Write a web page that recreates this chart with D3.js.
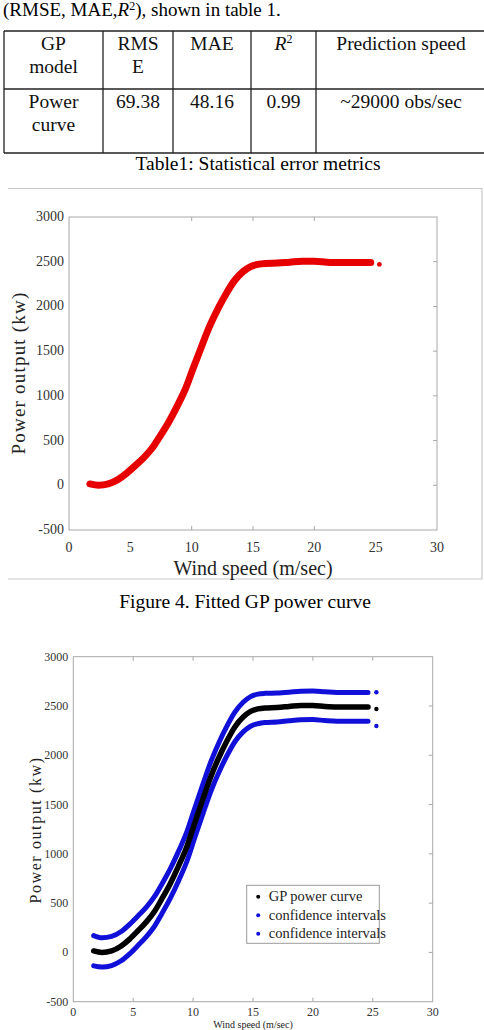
<!DOCTYPE html>
<html lang="en">
<head>
<meta charset="UTF-8">
<title>GP power curve</title>
<script src="https://d3js.org/d3.v7.min.js"></script>
<style>
  body { margin: 0; background: #fff; }
  svg { display: block; font-family: "Liberation Serif", "Times New Roman", serif; }
  .tick-label { fill: #333; }
</style>
</head>
<body>
<svg id="page" width="484" height="1030"></svg>
<script>
// table contents
const tableHeader = [["GP", "model"], ["RMS", "E"], ["MAE"], ["R²"], ["Prediction speed"]];
const tableRow = [["Power", "curve"], ["69.38"], ["48.16"], ["0.99"], ["~29000 obs/sec"]];

// fitted GP curve (wind speed m/s -> kW)
const windSpeed = [1.7, 2.4, 3.2, 4.0, 4.7, 5.4, 6.1, 6.8, 7.4, 8.1, 8.8, 9.5, 10.1, 10.8, 11.5,
  12.2, 12.8, 13.5, 14.2, 14.8, 15.4, 16, 17, 18, 19, 20, 21, 22, 23, 24, 24.6];
const gpPower = [15, 0, 15, 65, 135, 220, 310, 420, 545, 700, 880, 1080, 1300, 1550, 1790,
  1990, 2140, 2290, 2390, 2445, 2470, 2480, 2485, 2495, 2505, 2505, 2495, 2490, 2490, 2490, 2490];
const upperCI = [170, 148, 162, 212, 285, 370, 460, 570, 695, 850, 1030, 1230, 1450, 1700, 1940,
  2140, 2290, 2440, 2540, 2595, 2620, 2628, 2632, 2640, 2650, 2652, 2645, 2638, 2636, 2636, 2636];
const lowerCI = [-136, -148, -133, -85, -15, 70, 160, 270, 395, 550, 730, 930, 1150, 1400, 1640,
  1840, 1990, 2140, 2240, 2295, 2320, 2332, 2338, 2350, 2360, 2362, 2352, 2345, 2345, 2345, 2345];
// lone point at the cut-out speed
const lastSpeed = 25.3;
const lastPower = 2470, lastUpper = 2640, lastLower = 2297;

const xTicks = [0, 5, 10, 15, 20, 25, 30];
const yTicks = [-500, 0, 500, 1000, 1500, 2000, 2500, 3000];
const legendLabels = ["GP power curve", "confidence intervals", "confidence intervals"];
const legendColors = ["#000", "#1010d8", "#1010d8"];

const svg = d3.select("#page");
const bodySize = 19.5;

// ---- text + table ----
const intro = svg.append("text").attr("x", 3).attr("y", 16).style("font-size", "19px");
intro.append("tspan").text("(RMSE, MAE,");
intro.append("tspan").style("font-style", "italic").text("R");
intro.append("tspan").attr("dy", -6).style("font-size", "12px").text("2");
intro.append("tspan").attr("dy", 6).text("), shown in table 1.");

const colEdges = [4, 103, 173, 251, 316, 490];
const rowEdges = [31, 89, 153];
const table = svg.append("g").attr("stroke", "#222").attr("stroke-width", 1.3);
rowEdges.forEach(y => table.append("line").attr("x1", 4).attr("x2", 490).attr("y1", y).attr("y2", y));
colEdges.slice(0, 5).forEach(x => table.append("line").attr("x1", x).attr("x2", x).attr("y1", 31).attr("y2", 153));

function cellText(lines, ci, top, italic) {
  const cx = (colEdges[ci] + colEdges[ci + 1]) / 2;
  lines.forEach((t, i) => {
    const tx = svg.append("text")
      .attr("x", ci === 4 ? 401 : cx)
      .attr("y", top + i * 22.5)
      .attr("text-anchor", "middle")
      .style("font-size", bodySize + "px")
      .style("fill", "#111");
    if (italic) {
      tx.append("tspan").style("font-style", "italic").text("R");
      tx.append("tspan").attr("dy", -7).style("font-size", "12px").text("2");
    } else {
      tx.text(t);
    }
  });
}
tableHeader.forEach((c, i) => cellText(c, i, 50, i === 3));
tableRow.forEach((c, i) => cellText(c, i, 108, false));

svg.append("text").attr("x", 258).attr("y", 170).attr("text-anchor", "middle")
  .style("font-size", bodySize + "px").text("Table1: Statistical error metrics");

// ---- figure 4 frame ----
svg.append("path").attr("d", "M8,188.5 H482 V579 H8").attr("fill", "none")
  .attr("stroke", "#c8c8c8").attr("stroke-width", 1.2);

function drawAxes(g, x, y, opts) {
  const [x0, x1] = x.range();
  const [y0, y1] = y.range();
  g.append("rect").attr("x", x0).attr("y", y1).attr("width", x1 - x0).attr("height", y0 - y1)
    .attr("fill", "none").attr("stroke", "#a8a8a8").attr("stroke-width", 1);
  const tk = g.append("g").attr("stroke", "#a8a8a8").attr("stroke-width", 1);
  opts.xTickMarks.forEach(v => {
    tk.append("line").attr("x1", x(v)).attr("x2", x(v)).attr("y1", y0).attr("y2", y0 - 4);
    tk.append("line").attr("x1", x(v)).attr("x2", x(v)).attr("y1", y1).attr("y2", y1 + 4);
  });
  yTicks.slice(1, -1).forEach(v => {
    tk.append("line").attr("x1", x1).attr("x2", x1 - 4).attr("y1", y(v)).attr("y2", y(v));
  });
  g.selectAll(".xl").data(xTicks).enter().append("text")
    .attr("class", "tick-label").style("font-size", opts.tickSize + "px")
    .attr("x", d => x(d)).attr("y", y0 + opts.xLabelGap)
    .attr("text-anchor", "middle").text(d => d);
  g.selectAll(".yl").data(yTicks).enter().append("text")
    .attr("class", "tick-label").style("font-size", opts.tickSize + "px")
    .attr("x", x0 - 5).attr("y", d => y(d) + 4)
    .attr("text-anchor", "end").text(d => d);
  g.append("text").attr("x", (x0 + x1) / 2 + opts.xTitleShift).attr("y", opts.xTitleY)
    .attr("text-anchor", "middle").style("font-size", opts.titleSize + "px")
    .style("fill", "#222").text("Wind speed (m/sec)");
  g.append("text")
    .attr("transform", `translate(${opts.yTitleX},${opts.yTitleY}) rotate(-90)`)
    .attr("text-anchor", "middle").style("font-size", opts.yTitleSize + "px")
    .style("letter-spacing", opts.spacing + "px").style("fill", "#222")
    .text("Power output (kw)");
}

// ---- figure 4: fitted curve ----
const x1s = d3.scaleLinear().domain([0, 30]).range([69, 437]);
const y1s = d3.scaleLinear().domain([-500, 3000]).range([530, 217]);
const fig1 = svg.append("g");
drawAxes(fig1, x1s, y1s, {
  xTickMarks: [10, 15, 20], xLabelGap: 22, xTitleY: 575, xTitleShift: 0, tickSize: 14,
  titleSize: 20, yTitleSize: 19, yTitleX: 25, yTitleY: 373, spacing: 1.2
});
const line1 = d3.line().x((d, i) => x1s(windSpeed[i])).y(d => y1s(d)).curve(d3.curveMonotoneX);
fig1.append("path").datum(gpPower).attr("d", line1).attr("fill", "none")
  .attr("stroke", "#e60000").attr("stroke-width", 7).attr("stroke-linecap", "round");
fig1.append("circle").attr("cx", x1s(lastSpeed)).attr("cy", y1s(lastPower)).attr("r", 2.4).attr("fill", "#e60000");

svg.append("text").attr("x", 245).attr("y", 608).attr("text-anchor", "middle")
  .style("font-size", bodySize + "px").text("Figure 4. Fitted GP power curve");

// ---- figure 5: curve with confidence intervals ----
const x2s = d3.scaleLinear().domain([0, 30]).range([73.3, 432.7]);
const y2s = d3.scaleLinear().domain([-500, 3000]).range([1001.7, 656.7]);
const fig2 = svg.append("g");
drawAxes(fig2, x2s, y2s, {
  xTickMarks: [5, 10, 15, 20, 25], xLabelGap: 14.2, xTitleY: 1027.6, xTitleShift: 0, tickSize: 12,
  titleSize: 10, yTitleSize: 16, yTitleX: 41, yTitleY: 830, spacing: 1.6
});
const line2 = d3.line().x((d, i) => x2s(windSpeed[i])).y(d => y2s(d)).curve(d3.curveMonotoneX);
[[upperCI, legendColors[1], 5], [lowerCI, legendColors[2], 5], [gpPower, legendColors[0], 5.5]].forEach(([s, c, w]) => {
  fig2.append("path").datum(s).attr("d", line2).attr("fill", "none")
    .attr("stroke", c).attr("stroke-width", w).attr("stroke-linecap", "round");
});
[[lastUpper, legendColors[1]], [lastPower, legendColors[0]], [lastLower, legendColors[2]]].forEach(([v, c]) => {
  fig2.append("circle").attr("cx", x2s(lastSpeed)).attr("cy", y2s(v)).attr("r", 2.2).attr("fill", c);
});

// legend
const lg = fig2.append("g").attr("transform", "translate(246.7,885.3)");
lg.append("rect").attr("width", 132.6).attr("height", 58).attr("fill", "#fff")
  .attr("stroke", "#9a9a9a").attr("stroke-width", 1);
legendLabels.forEach((t, i) => {
  lg.append("circle").attr("cx", 11.5).attr("cy", 11.5 + i * 18.5).attr("r", 2).attr("fill", legendColors[i]);
  lg.append("text").attr("x", 22).attr("y", 16 + i * 18.5).style("font-size", "14.5px")
    .style("fill", "#222").text(t);
});
</script>
</body>
</html>
